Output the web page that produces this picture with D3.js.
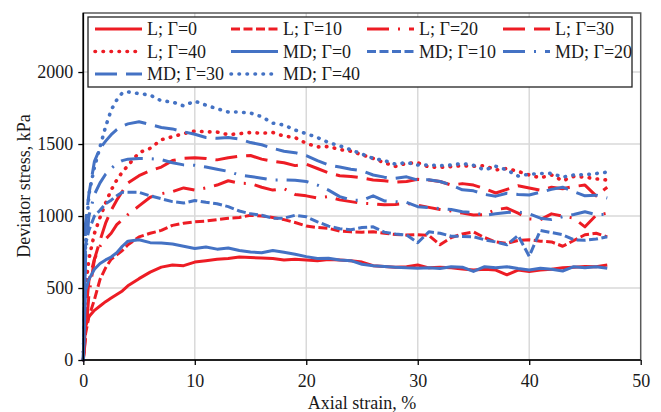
<!DOCTYPE html>
<html><head><meta charset="utf-8">
<script src="https://cdn.jsdelivr.net/npm/d3@7"></script>
<style>
body{margin:0;background:#fff}
svg{display:block}
text{font-family:"Liberation Serif","Times New Roman",serif;font-size:18px;fill:#1a1a1a}
</style>
</head><body><svg id="c" width="661" height="412"></svg>
<script>
// ---- data ----
const strain = [0,0.2,0.5,1,1.5,2,2.5,3,3.5,4,5,6,7,8,9,10,11,12,13,14,15,16,17,18,19,20,21,22,23,24,25,26,27,28,29,30,31,32,33,34,35,36,37,38,39,40,41,42,43,44,45,46,47];
const L0  = [0,230,300,345,375,405,430,455,480,515,565,610,645,660,655,680,690,700,705,715,712,708,705,695,700,695,690,698,695,690,680,655,650,645,648,660,640,645,640,632,625,630,625,592,625,615,625,630,640,645,650,648,660];
const L10 = [0,180,300,420,560,640,700,730,760,800,855,880,900,935,950,960,965,975,985,990,1005,1000,990,975,955,930,920,915,895,890,888,890,880,872,868,870,865,800,850,875,890,850,820,810,830,835,825,820,790,830,870,880,855];
const L20 = [0,150,450,700,790,840,880,940,975,1010,1070,1130,1155,1170,1195,1180,1195,1215,1245,1228,1225,1200,1180,1190,1150,1140,1125,1135,1112,1100,1088,1085,1078,1080,1088,1075,1060,1045,1035,1020,1007,1010,1045,1055,1020,980,975,1015,1000,985,925,1005,1020];
const L30 = [0,300,550,700,830,950,1040,1110,1170,1230,1280,1315,1340,1385,1400,1405,1400,1390,1405,1415,1420,1395,1380,1370,1350,1360,1330,1300,1280,1275,1265,1250,1245,1235,1240,1255,1250,1240,1215,1225,1215,1190,1160,1185,1210,1195,1180,1200,1190,1205,1215,1140,1200];
const L40 = [0,500,700,880,990,1090,1180,1250,1305,1350,1440,1470,1530,1551,1572,1590,1585,1583,1565,1572,1580,1575,1580,1555,1545,1505,1480,1482,1462,1450,1425,1400,1370,1345,1366,1370,1340,1338,1343,1350,1345,1350,1320,1330,1310,1285,1265,1285,1245,1275,1270,1258,1250];
const MD0  = [0,480,560,630,670,695,715,745,790,825,835,815,812,805,790,775,785,770,778,760,750,745,760,748,735,718,705,706,695,690,665,655,650,645,640,637,640,635,648,645,615,648,640,648,635,625,637,630,618,648,640,648,637];
const MD10 = [0,800,900,1000,1040,1085,1110,1140,1165,1165,1165,1140,1120,1100,1090,1108,1095,1085,1065,1035,1015,1005,985,985,1005,995,960,930,912,905,920,925,888,875,868,815,890,880,860,858,856,835,820,800,865,720,900,885,870,835,832,840,856];
const MD20 = [0,700,1000,1150,1230,1290,1330,1365,1385,1395,1400,1398,1392,1370,1355,1352,1340,1325,1310,1285,1275,1262,1250,1250,1248,1240,1215,1180,1135,1112,1108,1140,1105,1100,1095,1065,1058,1052,1045,1030,1025,1005,1015,1025,1028,1015,985,975,995,1010,1030,1010,1012];
const MD30 = [0,950,1150,1380,1470,1520,1565,1600,1625,1640,1655,1635,1615,1605,1585,1568,1545,1540,1545,1535,1510,1495,1470,1450,1440,1420,1385,1355,1340,1325,1315,1285,1270,1262,1272,1250,1252,1240,1215,1182,1175,1150,1138,1158,1150,1146,1165,1185,1200,1170,1140,1145,1125];
const MD40 = [0,800,1150,1340,1480,1620,1736,1806,1855,1862,1850,1840,1800,1792,1765,1798,1770,1745,1722,1722,1715,1690,1645,1632,1597,1572,1545,1510,1488,1460,1430,1400,1385,1360,1372,1354,1354,1350,1354,1365,1352,1320,1345,1320,1278,1290,1295,1296,1270,1285,1287,1295,1305];
const seriesNames = ["L; \u0393=0","L; \u0393=10","L; \u0393=20","L; \u0393=30","L; \u0393=40","MD; \u0393=0","MD; \u0393=10","MD; \u0393=20","MD; \u0393=30","MD; \u0393=40"];
const seriesValues = [L0,L10,L20,L30,L40,MD0,MD10,MD20,MD30,MD40];
const xTicks = [0,10,20,30,40,50];
const yTicks = [0,500,1000,1500,2000];
const xTitle = "Axial strain, %";
const yTitle = "Deviator stress, kPa";

// ---- styles ----
const RED = "#ED1C24", BLUE = "#4472C4";
const dashes = [null, "9,3.5", "22,9,2,9", "22,9", "0.5,7.5"];

const svg = d3.select("#c");
const pL = 83.3, pR = 640.7, pT = 13, pB = 360;
const x = d3.scaleLinear().domain([0,50]).range([pL,pR]);
const y = d3.scaleLinear().domain([0,2410]).range([pB,pT]);

// gridlines
svg.append("g").selectAll("line").data(yTicks.filter(d=>d>0)).join("line")
  .attr("x1",pL).attr("x2",pR).attr("y1",d=>y(d)).attr("y2",d=>y(d))
  .attr("stroke","#d9d9d9").attr("stroke-width",1.5);
svg.append("g").selectAll("line").data(xTicks.filter(d=>d>0&&d<50)).join("line")
  .attr("y1",pT).attr("y2",pB).attr("x1",d=>x(d)).attr("x2",d=>x(d))
  .attr("stroke","#d9d9d9").attr("stroke-width",1.5);

// frame
svg.append("rect").attr("x",pL).attr("y",pT).attr("width",pR-pL).attr("height",pB-pT)
  .attr("fill","none").attr("stroke","#595959").attr("stroke-width",1.5);

// series
const line = d3.line().x((d,i)=>x(strain[i])).y(d=>y(d));
seriesValues.forEach((vals,k)=>{
  const g = k%5;
  svg.append("path").datum(vals).attr("d",line)
    .attr("fill","none").attr("stroke",k<5?RED:BLUE).attr("stroke-width",g===4?3.6:3)
    .attr("stroke-linejoin","round")
    .attr("stroke-linecap",g===4?"round":"butt")
    .attr("stroke-dasharray",dashes[g]);
});

// axes
const fmt = d3.format("d");
const xa = svg.append("g").attr("transform",`translate(0,${pB})`)
  .call(d3.axisBottom(x).tickValues(xTicks).tickFormat(fmt).tickSize(5).tickPadding(9));
const ya = svg.append("g").attr("transform",`translate(${pL},0)`)
  .call(d3.axisLeft(y).tickValues(yTicks).tickFormat(fmt).tickSize(5).tickPadding(5));
[xa,ya].forEach(a=>{
  a.select(".domain").attr("stroke","#000").attr("stroke-width",1.6);
  a.selectAll(".tick line").attr("stroke","#000").attr("stroke-width",1.3);
  a.selectAll(".tick text").attr("font-family",null).attr("font-size",null).style("font-size","18px").style("font-family","'Liberation Serif',serif").attr("fill","#1a1a1a");
});
xa.select(".domain").attr("d",`M${pL},0H${pR}`);
ya.select(".domain").attr("d",`M0,${pB}V${pT}`);

// titles
svg.append("text").attr("x",(pL+pR)/2).attr("y",409).attr("text-anchor","middle").text(xTitle);
svg.append("text").attr("transform","translate(30,186) rotate(-90)").attr("text-anchor","middle").text(yTitle);

// legend
const lg = svg.append("g");
lg.append("rect").attr("x",88).attr("y",17).attr("width",544).attr("height",70)
  .attr("fill","#fff").attr("stroke","#222").attr("stroke-width",1.3);
seriesNames.forEach((name,k)=>{
  const col = k%4, row = Math.floor(k/4), g = k%5;
  const lx = 95 + col*136, ly = 29 + row*22.5;
  lg.append("line").attr("x1",lx).attr("x2",lx+47).attr("y1",ly).attr("y2",ly)
    .attr("stroke",k<5?RED:BLUE).attr("stroke-width",g===4?3.6:3)
    .attr("stroke-linecap",g===4?"round":"butt").attr("stroke-dasharray",dashes[g]);
  lg.append("text").attr("x",lx+52).attr("y",ly+6).text(name);
});
</script>
</body></html>
